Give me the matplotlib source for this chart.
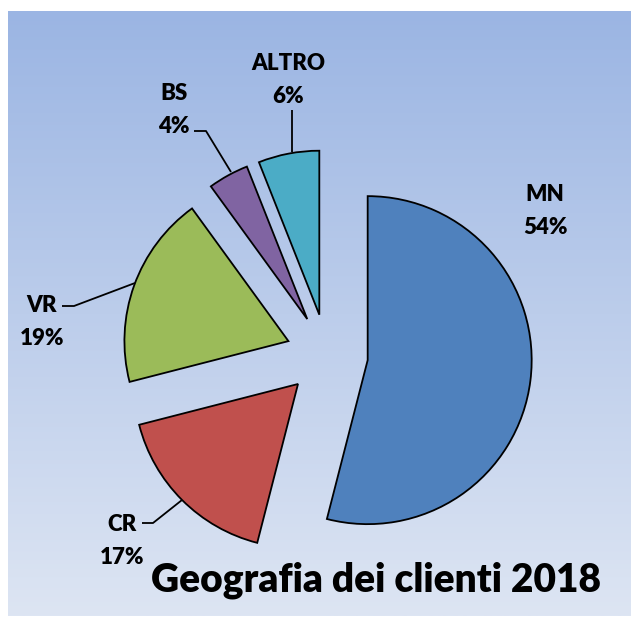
import numpy as np
import matplotlib
matplotlib.use("Agg")
import matplotlib.pyplot as plt
from matplotlib.colors import LinearSegmentedColormap

# Data
labels = ["MN", "CR", "VR", "BS", "ALTRO"]
values = [54, 17, 19, 4, 6]
pct_labels = ["54%", "17%", "19%", "4%", "6%"]
colors = ["#4F81BD", "#C0504D", "#9BBB59", "#8064A2", "#4BACC6"]
title = "Geografia dei clienti 2018"

W, H = 631, 617
fig = plt.figure(figsize=(W / 100, H / 100), dpi=100)
fig.patch.set_facecolor("white")
ax = fig.add_axes([0, 0, 1, 1])

# gradient background (pixel coords, y up)
cmap = LinearSegmentedColormap.from_list("bg", ["#DDE5F3", "#9BB5E3"])
grad = np.linspace(0, 1, 256).reshape(-1, 1)
ax.imshow(grad, cmap=cmap, extent=[8, 631, H - 616, H - 11], origin="lower",
          aspect="auto", zorder=0)

# pie
cx, cy = 327, H - 355
radius = 164
explode = [41] * len(values)
wedges, _ = ax.pie(values, colors=colors, startangle=90, counterclock=False,
                   center=(cx, cy), radius=radius, explode=explode,
                   wedgeprops=dict(edgecolor="black", linewidth=1.3),
                   frame=True)
ax.set_xlim(0, W)
ax.set_ylim(0, H)
ax.set_aspect("equal")
ax.axis("off")

font = dict(family="Lato", fontweight="heavy", fontsize=16, color="black")

def lab(x, y, i):
    ax.text(x, H - y, labels[i] + "\n" + pct_labels[i], ha="center", va="center",
            linespacing=1.65, **font)

lab(545, 211, 0)   # MN
lab(122, 541, 1)   # CR
lab(42, 322, 2)    # VR
lab(174, 110, 3)   # BS
lab(288, 80, 4)    # ALTRO

def leader(pts):
    xs = [p[0] for p in pts]
    ys = [H - p[1] for p in pts]
    ax.plot(xs, ys, color="black", lw=1.3, solid_capstyle="butt", zorder=5)

leader([(194, 131), (206, 131), (231, 172)])   # BS
leader([(292, 110), (292, 152)])               # ALTRO
leader([(62, 306), (74, 306), (135, 283)])     # VR
leader([(142, 523), (153, 523), (182, 500)])   # CR

ax.text(376, H - 580, title, ha="center", va="center", family="Lato",
        fontweight="heavy", fontsize=28, color="black")

fig.savefig("out.png", dpi=100, facecolor="white")
